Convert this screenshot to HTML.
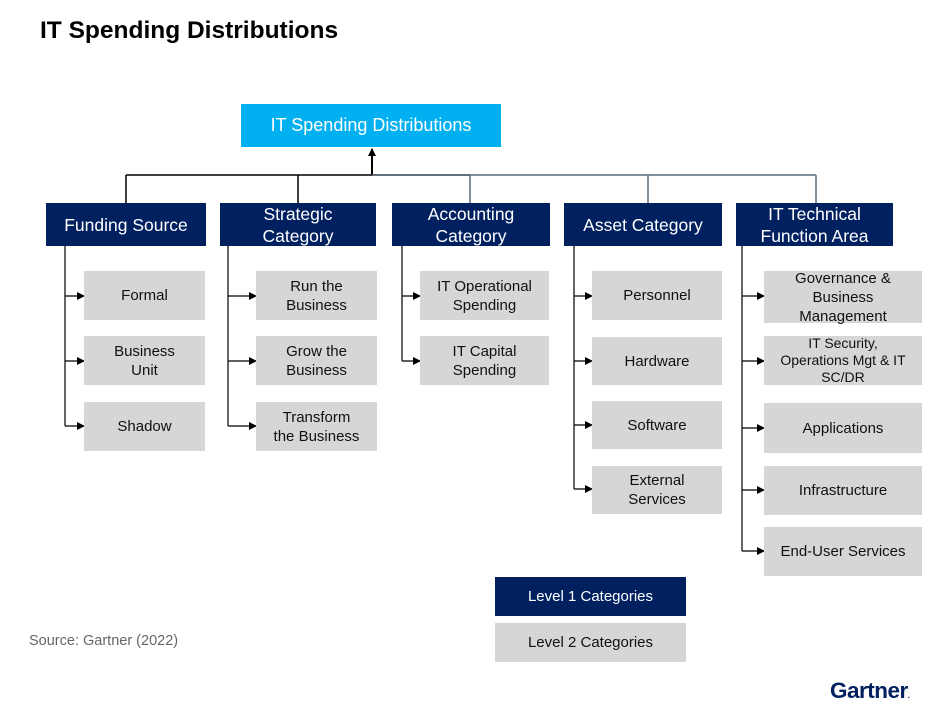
<!DOCTYPE html>
<html><head><meta charset="utf-8"><style>
body{margin:0;width:937px;height:710px;background:#fff;position:relative;overflow:hidden;font-family:"Liberation Sans",Arial,sans-serif}
.b{position:absolute;display:flex;align-items:center;justify-content:center;text-align:center;box-sizing:border-box}
.l1{background:#002060;color:#fff;font-size:17.5px;line-height:22px}
.l2{background:#d6d6d6;color:#111;font-size:15px;line-height:19px}
</style></head><body>
<div style="position:absolute;left:40px;top:17px;font-size:24.5px;font-weight:bold;color:#000">IT Spending Distributions</div>
<svg width="937" height="710" style="position:absolute;left:0;top:0">
<defs><marker id="a" markerWidth="8" markerHeight="8" refX="7" refY="4" orient="auto" markerUnits="userSpaceOnUse"><path d="M0,0 L8,4 L0,8z" fill="#000"/></marker></defs>
<g stroke="#000" stroke-width="1.5" fill="none">
<line x1="372" y1="175" x2="372" y2="149" marker-end="url(#a)" stroke-width="2"/>
<line x1="126" y1="175" x2="470" y2="175"/>
<line x1="126" y1="175" x2="126" y2="203"/><line x1="298" y1="175" x2="298" y2="203"/>
</g>
<g stroke="#5a6a78" stroke-width="1.5" fill="none">
<line x1="372" y1="175" x2="816" y2="175"/>
<line x1="470" y1="175" x2="470" y2="203"/><line x1="648" y1="175" x2="648" y2="203"/><line x1="816" y1="175" x2="816" y2="203"/>
</g>
<g stroke="#000" stroke-width="1.2" fill="none">
<line x1="65" y1="246" x2="65" y2="426"/><line x1="228" y1="246" x2="228" y2="426"/><line x1="402" y1="246" x2="402" y2="361"/><line x1="574" y1="246" x2="574" y2="489"/><line x1="742" y1="246" x2="742" y2="551"/>
<g marker-end="url(#a)">
<line x1="65" y1="296" x2="84" y2="296"/><line x1="65" y1="361" x2="84" y2="361"/><line x1="65" y1="426" x2="84" y2="426"/>
<line x1="228" y1="296" x2="256" y2="296"/><line x1="228" y1="361" x2="256" y2="361"/><line x1="228" y1="426" x2="256" y2="426"/>
<line x1="402" y1="296" x2="420" y2="296"/><line x1="402" y1="361" x2="420" y2="361"/>
<line x1="574" y1="296" x2="592" y2="296"/><line x1="574" y1="361" x2="592" y2="361"/><line x1="574" y1="425" x2="592" y2="425"/><line x1="574" y1="489" x2="592" y2="489"/>
<line x1="742" y1="296" x2="764" y2="296"/><line x1="742" y1="361" x2="764" y2="361"/><line x1="742" y1="428" x2="764" y2="428"/><line x1="742" y1="490" x2="764" y2="490"/><line x1="742" y1="551" x2="764" y2="551"/>
</g></g>
</svg>
<div class="b" style="left:241px;top:104px;width:260px;height:43px;background:#00b0f0;color:#fff;font-size:18px">IT Spending Distributions</div>
<div class="b l1" style="left:46px;top:203px;width:160px;height:43px">Funding Source</div>
<div class="b l1" style="left:220px;top:203px;width:156px;height:43px">Strategic<br>Category</div>
<div class="b l1" style="left:392px;top:203px;width:158px;height:43px">Accounting<br>Category</div>
<div class="b l1" style="left:564px;top:203px;width:158px;height:43px">Asset Category</div>
<div class="b l1" style="left:736px;top:203px;width:157px;height:43px">IT Technical<br>Function Area</div>
<div class="b l2" style="left:84px;top:271px;width:121px;height:49px">Formal</div>
<div class="b l2" style="left:84px;top:336px;width:121px;height:49px">Business<br>Unit</div>
<div class="b l2" style="left:84px;top:402px;width:121px;height:49px">Shadow</div>
<div class="b l2" style="left:256px;top:271px;width:121px;height:49px">Run the<br>Business</div>
<div class="b l2" style="left:256px;top:336px;width:121px;height:49px">Grow the<br>Business</div>
<div class="b l2" style="left:256px;top:402px;width:121px;height:49px">Transform<br>the Business</div>
<div class="b l2" style="left:420px;top:271px;width:129px;height:49px">IT Operational<br>Spending</div>
<div class="b l2" style="left:420px;top:336px;width:129px;height:49px">IT Capital<br>Spending</div>
<div class="b l2" style="left:592px;top:271px;width:130px;height:49px">Personnel</div>
<div class="b l2" style="left:592px;top:337px;width:130px;height:48px">Hardware</div>
<div class="b l2" style="left:592px;top:401px;width:130px;height:48px">Software</div>
<div class="b l2" style="left:592px;top:466px;width:130px;height:48px">External<br>Services</div>
<div class="b l2" style="left:764px;top:271px;width:158px;height:52px">Governance &amp;<br>Business<br>Management</div>
<div class="b l2" style="left:764px;top:336px;width:158px;height:49px;font-size:14px;line-height:17px">IT Security,<br>Operations Mgt &amp; IT<br>SC/DR</div>
<div class="b l2" style="left:764px;top:403px;width:158px;height:50px">Applications</div>
<div class="b l2" style="left:764px;top:466px;width:158px;height:49px">Infrastructure</div>
<div class="b l2" style="left:764px;top:527px;width:158px;height:49px">End-User Services</div>
<div class="b l1" style="left:495px;top:577px;width:191px;height:39px;font-size:15px">Level 1 Categories</div>
<div class="b l2" style="left:495px;top:623px;width:191px;height:39px">Level 2 Categories</div>
<div style="position:absolute;left:29px;top:633px;font-size:14.5px;color:#666">Source: Gartner (2022)</div>
<div style="position:absolute;left:830px;top:678px;font-size:22.5px;font-weight:bold;color:#002060;letter-spacing:-0.5px">Gartner<span style="font-size:8px">.</span></div>
</body></html>
